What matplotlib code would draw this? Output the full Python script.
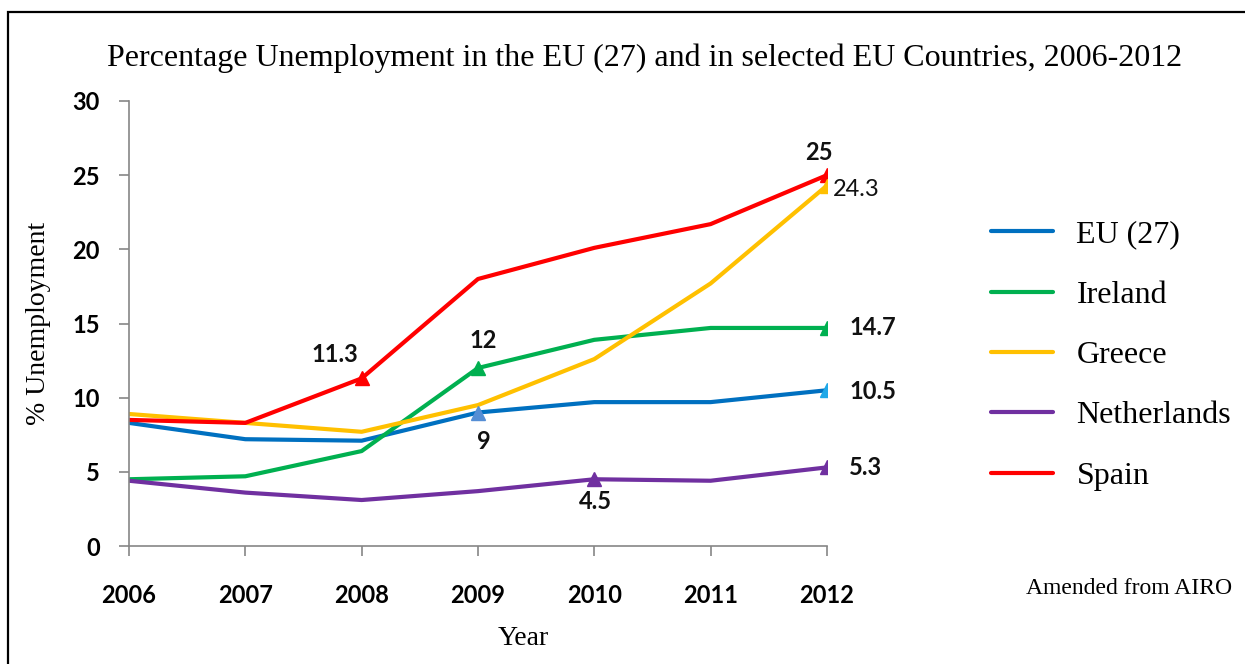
import matplotlib.pyplot as plt
from matplotlib.patches import Rectangle

years = [2006, 2007, 2008, 2009, 2010, 2011, 2012]
eu27 = [8.3, 7.2, 7.1, 9.0, 9.7, 9.7, 10.5]
ireland = [4.5, 4.7, 6.4, 12.0, 13.9, 14.7, 14.7]
greece = [8.9, 8.3, 7.7, 9.5, 12.6, 17.7, 24.3]
netherlands = [4.4, 3.6, 3.1, 3.7, 4.5, 4.4, 5.3]
spain = [8.5, 8.3, 11.3, 18.0, 20.1, 21.7, 25.0]

names = ['EU (27)', 'Ireland', 'Greece', 'Netherlands', 'Spain']
series = [eu27, ireland, greece, netherlands, spain]
colors = ['#0070C0', '#00B050', '#FFC000', '#7030A0', '#FF0000']

# (series index, year index, label, offset in points, ha, bold, marker colour)
labels = [
    (4, 2, '11.3', (-19, 17), 'center', True, '#FF0000'),
    (1, 3, '12', (4, 20), 'center', True, '#00B050'),
    (4, 6, '25', (-6, 16), 'center', True, '#FF0000'),
    (2, 6, '24.3', (4, -3), 'left', False, '#FFC000'),
    (1, 6, '14.7', (16, 0), 'left', True, '#00B050'),
    (0, 6, '10.5', (16, -1), 'left', True, '#1FA8E8'),
    (0, 3, '9', (4, -21), 'center', True, '#558ED5'),
    (3, 4, '4.5', (1, -16), 'center', True, '#7030A0'),
    (3, 6, '5.3', (16, 0), 'left', True, '#7030A0'),
]

serif = 'Liberation Serif'
sans = 'Lato'
tickgrey = '#868686'

fig = plt.figure(figsize=(12.45, 6.64), dpi=100)
ax = fig.add_axes([0.1036, 0.1777, 0.5606, 0.6702])

for name, vals, col in zip(names, series, colors):
    ax.plot(years, vals, color=col, lw=3, label=name, solid_capstyle='round')

for si, yi, txt, off, ha, bold, mcol in labels:
    x, y = years[yi], series[si][yi]
    ax.plot(x, y, marker='^', ms=10, color=mcol, mec=mcol, ls='none')
    ax.annotate(txt, (x, y), xytext=off, textcoords='offset points',
                ha=ha, va='center', fontsize=17, family=sans,
                fontweight='bold' if bold else 'normal', color='#111111')

ax.set_xlim(2006, 2012)
ax.set_ylim(0, 30)
ax.set_xticks(years)
ax.set_yticks(range(0, 31, 5))
ax.spines['top'].set_visible(False)
ax.spines['right'].set_visible(False)
for s in ['left', 'bottom']:
    ax.spines[s].set_color(tickgrey)
    ax.spines[s].set_linewidth(1.2)
ax.tick_params(axis='both', direction='out', length=7, width=1.2, color=tickgrey)
ax.tick_params(axis='x', pad=20)
ax.tick_params(axis='y', pad=14)
for lab in ax.get_xticklabels() + ax.get_yticklabels():
    lab.set_fontfamily(sans)
    lab.set_fontweight('bold')
    lab.set_fontsize(17)

ax.set_xlabel('Year', family=serif, fontsize=20, labelpad=14, x=0.565)
ax.set_ylabel('% Unemployment', family=serif, fontsize=20, labelpad=15)

fig.text(0.518, 0.913, 'Percentage Unemployment in the EU (27) and in selected EU Countries, 2006-2012',
         ha='center', va='center', family=serif, fontsize=23)

leg = fig.legend(loc='upper left', bbox_to_anchor=(0.7725, 0.712), frameon=False,
                 prop={'family': serif, 'size': 23}, handlelength=1.97,
                 handletextpad=0.72, labelspacing=0.97)
for h in leg.get_lines():
    h.set_linewidth(3)

fig.text(0.9895, 0.114, 'Amended from AIRO', ha='right', va='center',
         family=serif, fontsize=17)

fig.patches.append(Rectangle((0.0065, -0.05), 1.1, 1.032, transform=fig.transFigure,
                             fill=False, ec='black', lw=1.6))

fig.savefig('out.png', dpi=100)
